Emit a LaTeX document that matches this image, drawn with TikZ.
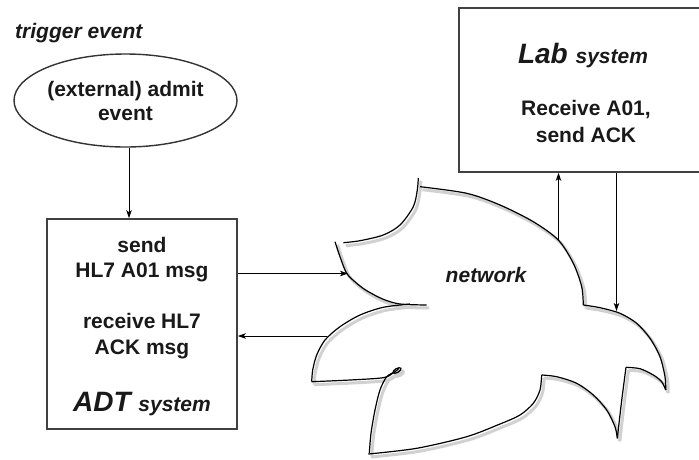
\documentclass[tikz,border=0pt]{standalone}
\usepackage{fontspec}
\setmainfont{Liberation Sans}
\usetikzlibrary{shapes.geometric,arrows.meta}

\tikzset{
  txt/.style={font=\fontsize{21}{24}\selectfont\bfseries, text=black!90, anchor=base, inner sep=0pt},
  itxt/.style={txt, font=\fontsize{21}{24}\selectfont\bfseries\itshape},
  sysbox/.style={draw=black!75, line width=1.6pt, inner sep=0pt},
  evt/.style={ellipse, draw=black!80, line width=1.4pt, inner sep=0pt, align=center,
              font=\fontsize{21}{24}\selectfont\bfseries, text=black!90},
  arr/.style={draw=black, line width=1pt, -{Stealth[length=8pt,width=5.5pt,inset=2pt]}},
  netline/.style={draw=black, line width=1.2pt, line join=miter, line cap=butt},
}

% outline of the network cloud, drawn as separate arcs meeting in sharp tips
\newcommand\netoutline{%
  \draw[netline] plot[smooth] coordinates {(418.3,178) (417.3,190) (413.3,206.7) (400,225) (383.3,235) (360,240.7) (343.3,242.7)};
  \draw[netline] plot[smooth] coordinates {(335,241.7) (340,256.7) (346.7,273.3) (356.7,283.3) (366.7,290.7) (383.3,299.3) (400,304) (426.7,305)};
  \draw[netline] plot[smooth] coordinates {(410,304) (383.3,307.3) (360,315) (340,326.7) (325,340) (316.7,355) (312.7,370) (311.7,381.7)};
  \draw[netline] plot[smooth] coordinates {(311.7,381.7) (350,380) (383.3,377.7) (393,373) (399,368.5)};
  \draw[netline, rotate around={30:(397,370.5)}] (397,370.5) ellipse [x radius=4.5, y radius=2];
  \draw[netline] plot[smooth] coordinates {(395,372) (386.7,376.7) (380,390) (375,410) (371,433.3) (369.3,453.3)};
  \draw[netline] plot[smooth] coordinates {(368.3,454) (416.7,448.3) (466.7,436.7) (500,424) (520,415) (533.3,403.3) (540,390) (541.7,375)};
  \draw[netline] plot[smooth] coordinates {(541.7,375) (556.7,376.7) (576.7,383.3) (593.3,395) (606.7,410) (615,426.7) (617.3,438.3)};
  \draw[netline] plot[smooth] coordinates {(617.3,438.3) (621.5,402) (626,367.3)};
  \draw[netline] plot[smooth] coordinates {(626,367.3) (640,368.7) (653.3,375) (661.7,381.7) (665.7,390)};
  \draw[netline] plot[smooth] coordinates {(665.7,390) (665,376.7) (660,356.7) (650,338.3) (636.7,323.3) (620,313.3) (600,307.7) (583.3,305)};
  \draw[netline] plot[smooth] coordinates {(583.3,305) (581.7,286.7) (573.3,263.3) (558.3,240) (533.3,221.7) (500,205) (466.7,193.3) (420,186.7)};
}

\begin{document}
\begin{tikzpicture}[x=1pt,y=-1pt]
  \useasboundingbox (0,0) rectangle (699,459);

  % trigger event
  \node[itxt, anchor=base west] (trig) at (15,38) {trigger event};
  \node[evt, minimum width=223pt, minimum height=93pt] (ell) at (125.5,100.5) {(external) admit\\event};

  % ADT system box
  \node[sysbox, minimum width=190pt, minimum height=210pt] (adt) at (142,324) {};
  \node[txt] (t1) at (142,252) {send};
  \node[txt] (t2) at (142,277) {HL7 A01 msg};
  \node[txt] (t3) at (142,328) {receive HL7};
  \node[txt] (t4) at (142,354) {ACK msg};
  \node[txt] (t5) at (142,411) {\itshape\fontsize{28}{30}\selectfont ADT {\fontsize{21}{24}\selectfont system}};

  % Lab system box (runs off the right edge)
  \node[sysbox, minimum width=242pt, minimum height=164pt] (lab) at (580,90) {};
  \node[txt] (l1) at (583,63) {\itshape\fontsize{28}{30}\selectfont Lab {\fontsize{21}{24}\selectfont system}};
  \node[txt] (l2) at (586,115) {Receive A01,};
  \node[txt] (l3) at (586,142) {send ACK};

  % network cloud with a soft shadow
  \begin{scope}[shift={(2.5,3)}, netline/.style={draw=black!18, line width=3pt, line join=round}]
    \netoutline
  \end{scope}
  \netoutline
  \node[itxt] (net) at (486,282) {network};

  % attachment points on the cloud
  \coordinate (netin) at (348,273.5);
  \coordinate (netout) at (327,336);
  \coordinate (netup) at (558.5,240.5);
  \coordinate (netdown) at (616.5,311);

  % connectors
  \draw[arr] ([xshift=3.5pt]ell.south) -- ([xshift=3.5pt]ell.south |- adt.north);
  \draw[arr] (adt.east |- netin) -- (netin);
  \draw[arr] (netout) -- (adt.east |- netout);
  \draw[arr] (netup) -- (netup |- lab.south);
  \draw[arr] (lab.south -| netdown) -- (netdown);
\end{tikzpicture}
\end{document}
